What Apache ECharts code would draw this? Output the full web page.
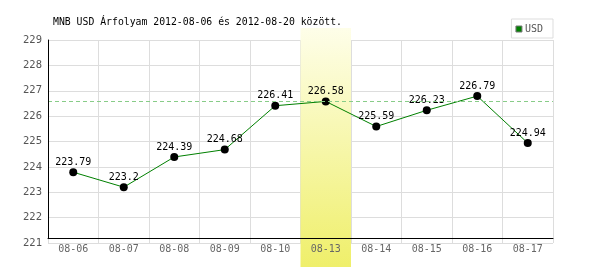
<!DOCTYPE html>
<html><head><meta charset="utf-8">
<script src="https://cdn.jsdelivr.net/npm/echarts@6/dist/echarts.min.js"></script>
<style>html,body{margin:0;padding:0;background:#fff}#c{width:600px;height:270px}</style>
</head><body><div id="c"></div>
<script>
const titleText = 'MNB USD Árfolyam 2012-08-06 és 2012-08-20 között.';
const categories = ['08-06','08-07','08-08','08-09','08-10','08-13','08-14','08-15','08-16','08-17'];
const usdValues = [223.79, 223.2, 224.39, 224.68, 226.41, 226.58, 225.59, 226.23, 226.79, 224.94];
const highlightCategory = '08-13';
const referenceValue = 226.58;
const yMin = 221, yMax = 229, yStep = 1;
const seriesName = 'USD';

const mono = 'DejaVu Sans Mono';
const chart = echarts.init(document.getElementById('c'), null, {renderer: 'canvas'});
chart.setOption({
  animation: false,
  backgroundColor: '#fff',
  title: {
    text: titleText, left: 53, top: 17, padding: 0,
    textStyle: {fontFamily: mono, fontSize: 9.8, fontWeight: 'normal', color: '#000'}
  },
  legend: {
    data: [seriesName], right: 47, top: 19, orient: 'horizontal',
    padding: [5, 10, 4, 4], borderColor: '#ddd', borderWidth: 1, backgroundColor: '#fff',
    itemWidth: 6, itemHeight: 6, icon: 'rect',
    itemStyle: {color: '#008000', borderColor: '#777', borderWidth: 1},
    textStyle: {fontFamily: mono, fontSize: 10, color: '#555', padding: [0, 0, 0, -2]}
  },
  grid: [
    {left: 48, right: 47, top: 40, height: 203},
    {left: 48, right: 47, top: 40, height: 198},
    {left: 48, right: 47, top: 28, bottom: 3}
  ],
  xAxis: [
    {gridIndex: 0, type: 'category', data: categories, boundaryGap: true, position: 'bottom', offset: 0,
     axisLine: {show: false}, axisTick: {show: false},
     splitLine: {show: true, interval: 0, lineStyle: {color: '#ddd', width: 1}},
     axisLabel: {show: false}},
    {gridIndex: 1, type: 'value', min: 0, max: 1, z: 10, position: 'bottom',
     axisLine: {show: true, lineStyle: {color: '#000', width: 1}}, axisTick: {show: false},
     axisLabel: {show: false}, splitLine: {show: false}},
    {gridIndex: 2, type: 'category', data: categories, show: false},
    {gridIndex: 0, type: 'category', data: categories, boundaryGap: true, z: 10, position: 'bottom', offset: 0,
     axisLine: {show: false}, axisTick: {show: false}, splitLine: {show: false},
     axisLabel: {interval: 0, margin: 0, fontFamily: mono, fontSize: 10, color: '#666', lineHeight: 12}}
  ],
  yAxis: [
    {gridIndex: 0, type: 'value', min: yMin, max: yMax, interval: yStep,
     axisLine: {show: false}, axisTick: {show: false},
     splitLine: {show: true, lineStyle: {color: '#ddd', width: 1}},
     axisLabel: {margin: 6, fontFamily: mono, fontSize: 10.5, color: '#555'}},
    {gridIndex: 1, type: 'value', min: 0, max: 1, z: 10,
     axisLine: {show: true, lineStyle: {color: '#000', width: 1}}, axisTick: {show: false},
     axisLabel: {show: false}, splitLine: {show: false}},
    {gridIndex: 2, type: 'value', min: 0, max: 1, show: false}
  ],
  series: [
    {
      type: 'bar', xAxisIndex: 2, yAxisIndex: 2, silent: true, z: 1,
      barWidth: '100%',
      data: categories.map(c => c === highlightCategory ? 1 : '-'),
      itemStyle: {color: new echarts.graphic.LinearGradient(0, 0, 0, 1, [
        {offset: 0, color: '#fefee9'}, {offset: 1, color: '#efef6a'}])}
    },
    {
      name: seriesName, type: 'line', xAxisIndex: 0, yAxisIndex: 0, z: 3,
      data: usdValues,
      symbol: 'circle', symbolSize: 8,
      lineStyle: {color: '#008000', width: 1},
      itemStyle: {color: '#000'},
      label: {show: true, position: 'top', distance: 0, fontFamily: mono, fontSize: 10, color: '#000', lineHeight: 12},
      markLine: {
        silent: true, symbol: ['none', 'none'], label: {show: false},
        lineStyle: {color: '#8c8', type: [4, 3], width: 1},
        data: [{yAxis: referenceValue}]
      }
    }
  ]
});
</script></body></html>
